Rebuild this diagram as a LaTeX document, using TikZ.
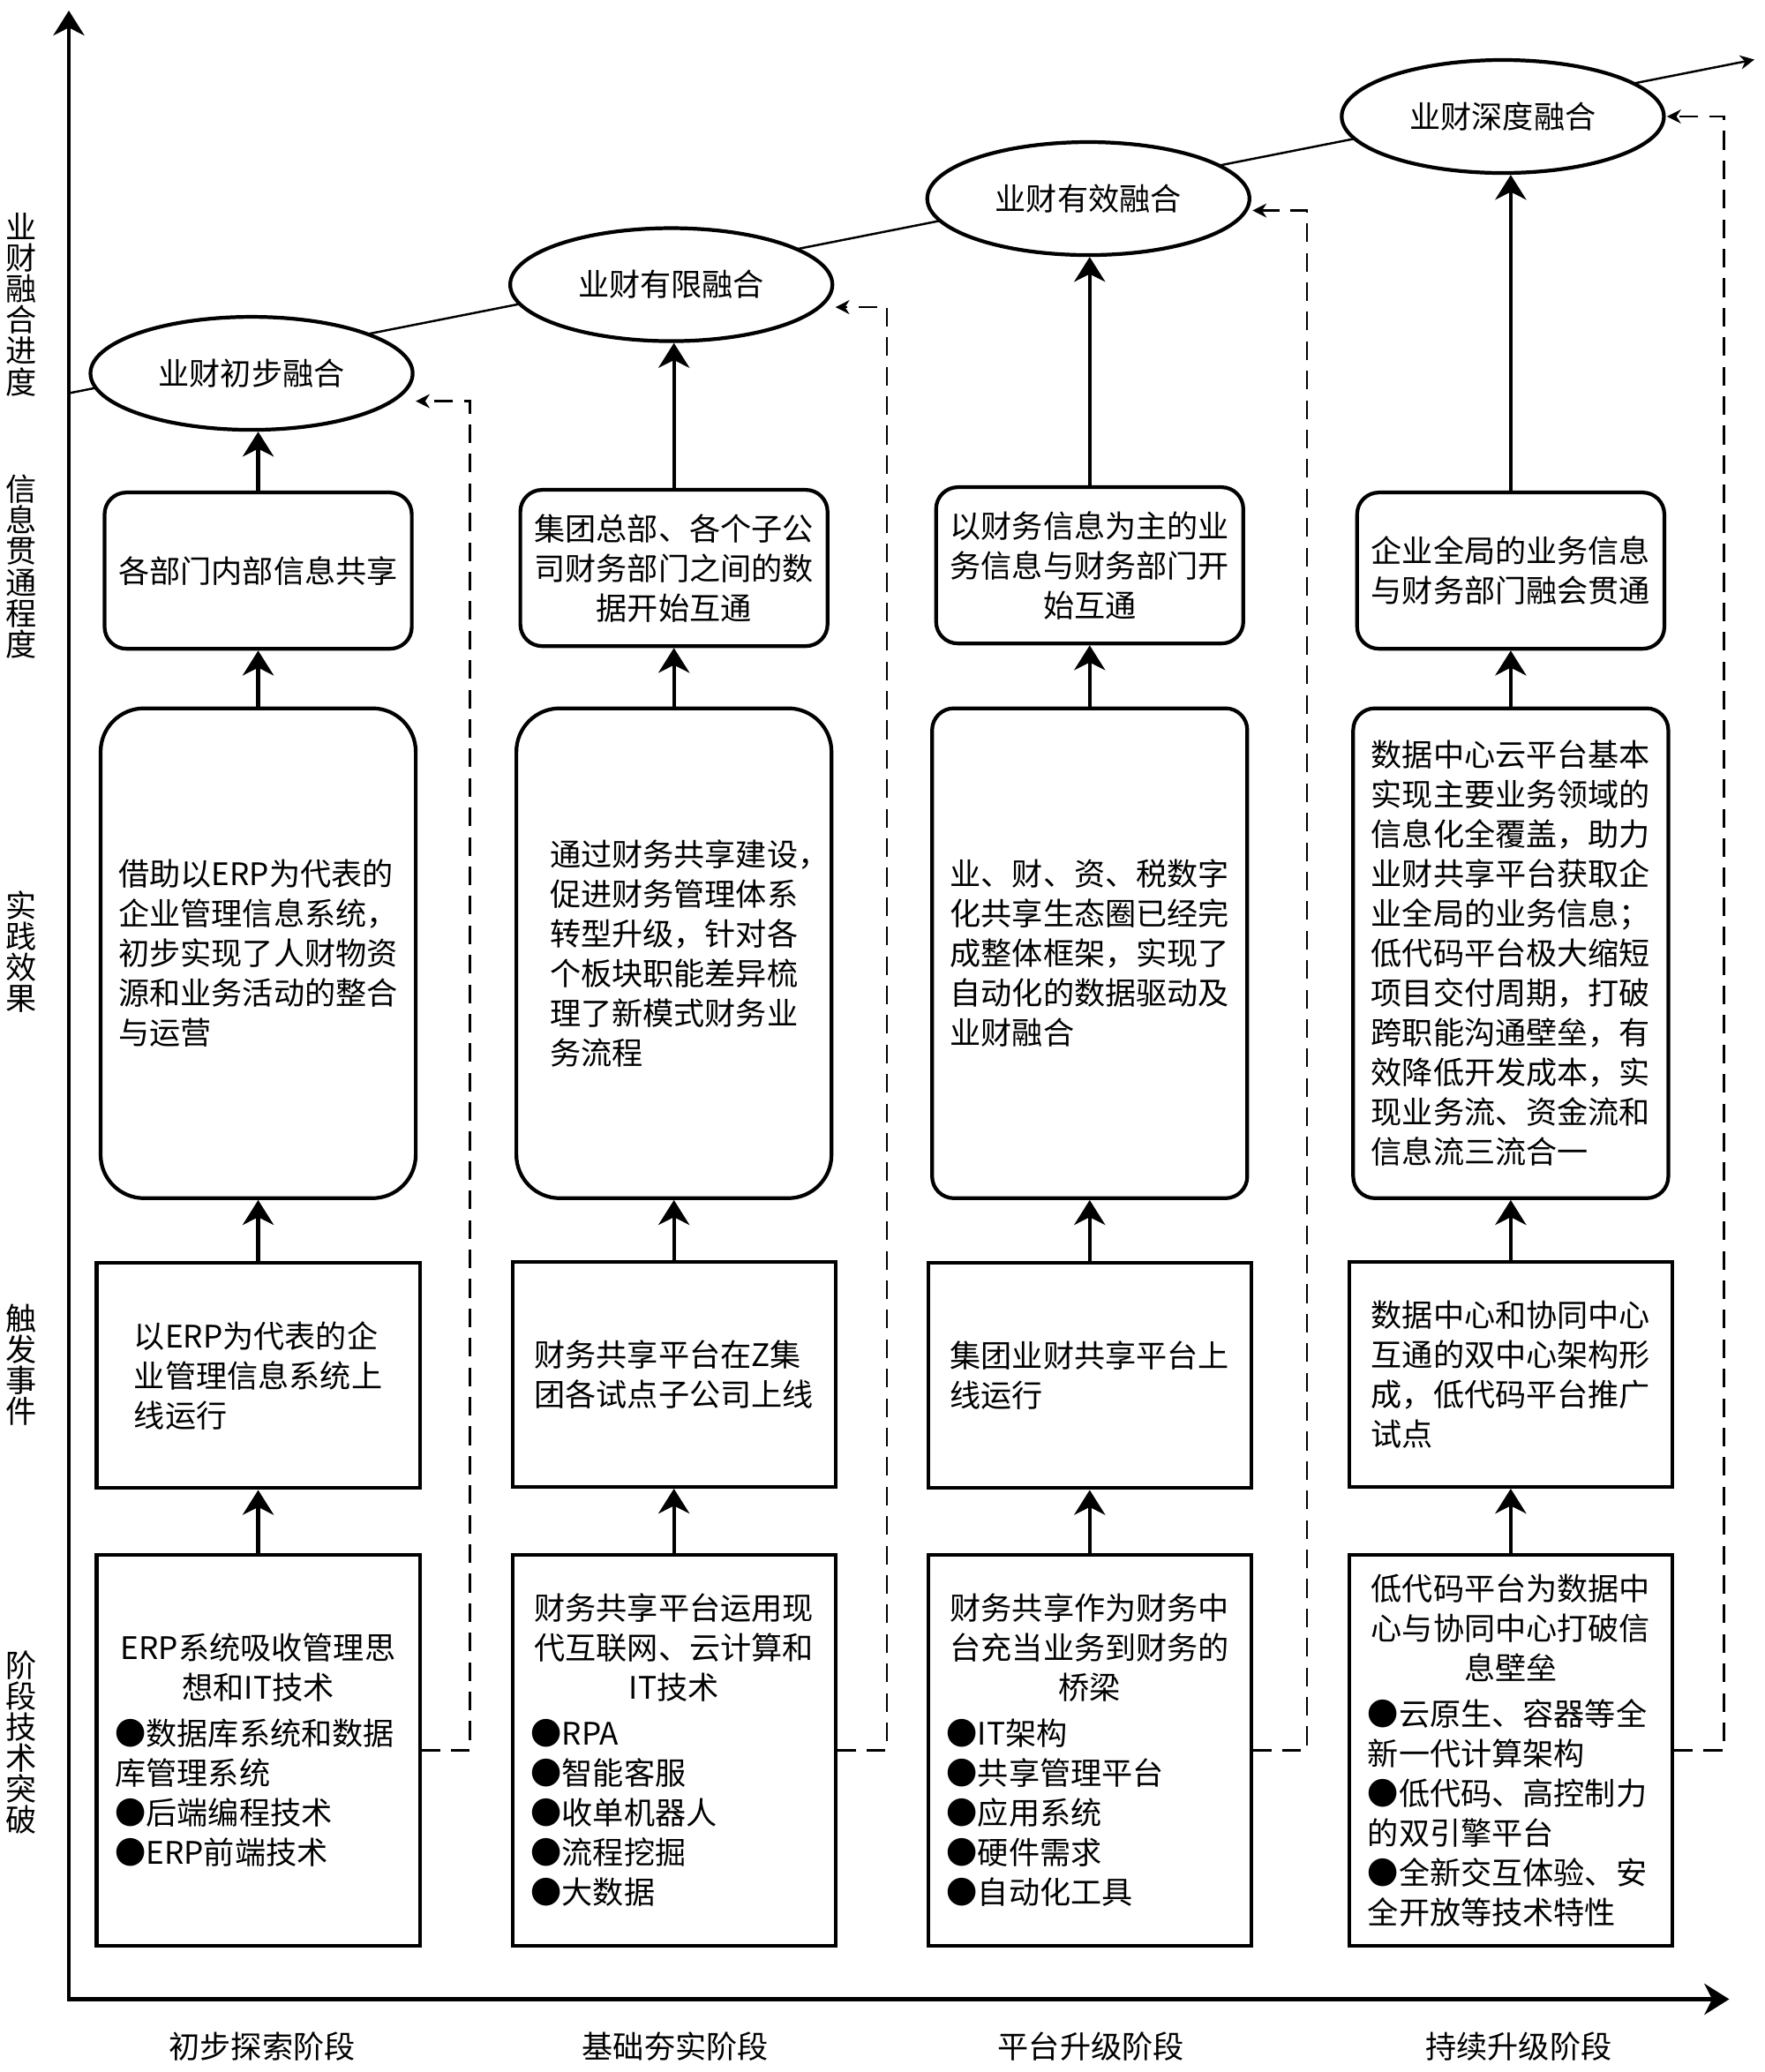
\documentclass[tikz,border=0pt]{standalone}
\usepackage{fontspec}
\setmainfont{Noto Sans CJK SC}
\usetikzlibrary{shapes.geometric, arrows.meta}

\begin{document}
\begin{tikzpicture}[x=0.15mm, y=-0.15mm,
    every node/.style={font=\fontsize{10pt}{12.8pt}\selectfont, inner sep=0pt},
    stage/.style={ellipse, draw, line width=1.2pt, fill=white,
        minimum width=3.65cm, minimum height=1.28cm},
    infobox/.style={draw, line width=1.2pt, rounded corners=7pt,
        minimum width=3.48cm, minimum height=1.77cm, align=center},
    effectbox/.style={draw, line width=1.2pt, rounded corners=7pt,
        minimum width=3.57cm, minimum height=5.55cm, align=left},
    eventbox/.style={draw, line width=1.2pt,
        minimum width=3.66cm, minimum height=2.55cm, align=left},
    techbox/.style={draw, line width=1.2pt,
        minimum width=3.66cm, minimum height=4.43cm, text width=3.24cm},
    axislabel/.style={font=\fontsize{10pt}{10pt}\selectfont, align=center},
    bigarrow/.style={line width=1.2pt, -{Stealth[length=8pt,width=10pt,inset=2.5pt]}},
    feedback/.style={line width=0.7pt, dash pattern=on 6pt off 3.5pt,
        -{Stealth[length=4.5pt,width=4.5pt]}}
]
    \useasboundingbox (0,0) rectangle (1333,1565);

    % axes
    \coordinate (ytop) at (52,8);
    \coordinate (origin) at (52,1510);
    \coordinate (xend) at (1306,1510);
    \draw[line width=1.2pt, {Stealth[length=8pt,width=10pt,inset=2.5pt]}-{Stealth[length=8pt,width=10pt,inset=2.5pt]}]
        (ytop) -- (origin) -- (xend);

    \coordinate (p0) at (52,297);
    \coordinate (p1) at (1325,45);
    \draw[line width=0.7pt, -{Stealth[length=4.5pt,width=4.5pt]}] (p0) -- (p1);

    \node[axislabel] (lab1) at (16,230) {业\\财\\融\\合\\进\\度};
    \node[axislabel] (lab2) at (16,428) {信\\息\\贯\\通\\程\\度};
    \node[axislabel] (lab3) at (16,719) {实\\践\\效\\果};
    \node[axislabel] (lab4) at (16,1031) {触\\发\\事\\件};
    \node[axislabel] (lab5) at (16,1316) {阶\\段\\技\\术\\突\\破};

    \node (phase1) at (198,1546) {初步探索阶段};
    \node (phase2) at (510,1546) {基础夯实阶段};
    \node (phase3) at (824,1546) {平台升级阶段};
    \node (phase4) at (1147,1546) {持续升级阶段};

    % stages
    \node[stage] (ell1) at (190,282) {业财初步融合};
    \node[stage] (ell2) at (507,215) {业财有限融合};
    \node[stage] (ell3) at (822,150) {业财有效融合};
    \node[stage] (ell4) at (1135,88) {业财深度融合};

    \node[infobox] (info1) at (195,431) {各部门内部信息共享};
    \node[infobox] (info2) at (509,429) {集团总部、各个子公\\司财务部门之间的数\\据开始互通};
    \node[infobox] (info3) at (823,427) {以财务信息为主的业\\务信息与财务部门开\\始互通};
    \node[infobox] (info4) at (1141,431) {企业全局的业务信息\\与财务部门融会贯通};

    \node[effectbox, rounded corners=14pt] (effect1) at (195,720)
        {借助以ERP为代表的\\企业管理信息系统，\\初步实现了人财物资\\源和业务活动的整合\\与运营};
    \node[effectbox, rounded corners=14pt] (effect2) at (509,720)
        {通过财务共享建设\rlap{，}\\促进财务管理体系\\转型升级，针对各\\个板块职能差异梳\\理了新模式财务业\\务流程};
    \node[effectbox] (effect3) at (823,720)
        {业、财、资、税数字\\化共享生态圈已经完\\成整体框架，实现了\\自动化的数据驱动及\\业财融合};
    \node[effectbox] (effect4) at (1141,720)
        {数据中心云平台基本\\实现主要业务领域的\\信息化全覆盖，助力\\业财共享平台获取企\\业全局的业务信息；\\低代码平台极大缩短\\项目交付周期，打破\\跨职能沟通壁垒，有\\效降低开发成本，实\\现业务流、资金流和\\信息流三流合一};

    \node[eventbox] (event1) at (195,1039) {以ERP为代表的企\\业管理信息系统上\\线运行};
    \node[eventbox] (event2) at (509,1038) {财务共享平台在Z集\\团各试点子公司上线};
    \node[eventbox] (event3) at (823,1039) {集团业财共享平台上\\线运行};
    \node[eventbox] (event4) at (1141,1038) {数据中心和协同中心\\互通的双中心架构形\\成，低代码平台推广\\试点};

    \node[techbox] (tech1) at (195,1322)
        {{\centering ERP系统吸收管理思\\想和IT技术\par}\vspace{2pt}\raggedright
        ●数据库系统和数据\\库管理系统\\●后端编程技术\\●ERP前端技术};
    \node[techbox] (tech2) at (509,1322)
        {{\centering 财务共享平台运用现\\代互联网、云计算和\\IT技术\par}\vspace{2pt}\raggedright
        ●RPA\\●智能客服\\●收单机器人\\●流程挖掘\\●大数据};
    \node[techbox] (tech3) at (823,1322)
        {{\centering 财务共享作为财务中\\台充当业务到财务的\\桥梁\par}\vspace{2pt}\raggedright
        ●IT架构\\●共享管理平台\\●应用系统\\●硬件需求\\●自动化工具};
    \node[techbox] (tech4) at (1141,1322)
        {{\centering 低代码平台为数据中\\心与协同中心打破信\\息壁垒\par}\vspace{2pt}\raggedright
        ●云原生、容器等全\\新一代计算架构\\●低代码、高控制力\\的双引擎平台\\●全新交互体验、安\\全开放等技术特性};

    % upward arrows
    \draw[bigarrow] (tech1) -- (event1);
    \draw[bigarrow] (event1) -- (effect1);
    \draw[bigarrow] (effect1) -- (info1);
    \draw[bigarrow] (info1.north) -- (info1.north |- ell1.south);
    \draw[bigarrow] (tech2) -- (event2);
    \draw[bigarrow] (event2) -- (effect2);
    \draw[bigarrow] (effect2) -- (info2);
    \draw[bigarrow] (info2.north) -- (info2.north |- ell2.south);
    \draw[bigarrow] (tech3) -- (event3);
    \draw[bigarrow] (event3) -- (effect3);
    \draw[bigarrow] (effect3) -- (info3);
    \draw[bigarrow] (info3.north) -- (info3.north |- ell3.south);
    \draw[bigarrow] (tech4) -- (event4);
    \draw[bigarrow] (event4) -- (effect4);
    \draw[bigarrow] (effect4) -- (info4);
    \draw[bigarrow] (info4.north) -- (info4.north |- ell4.south);

    % dashed feedback
    \coordinate (turn1) at (355,303);
    \coordinate (back1) at (314,303);
    \coordinate (turn2) at (670,232);
    \coordinate (back2) at (631,232);
    \coordinate (turn3) at (987,159);
    \coordinate (back3) at (946,159);
    \coordinate (turn4) at (1302,88);
    \coordinate (back4) at (1259,88);
    \draw[feedback] (tech1.east) -| (turn1) -- (back1);
    \draw[feedback] (tech2.east) -| (turn2) -- (back2);
    \draw[feedback] (tech3.east) -| (turn3) -- (back3);
    \draw[feedback] (tech4.east) -| (turn4) -- (back4);
\end{tikzpicture}
\end{document}
